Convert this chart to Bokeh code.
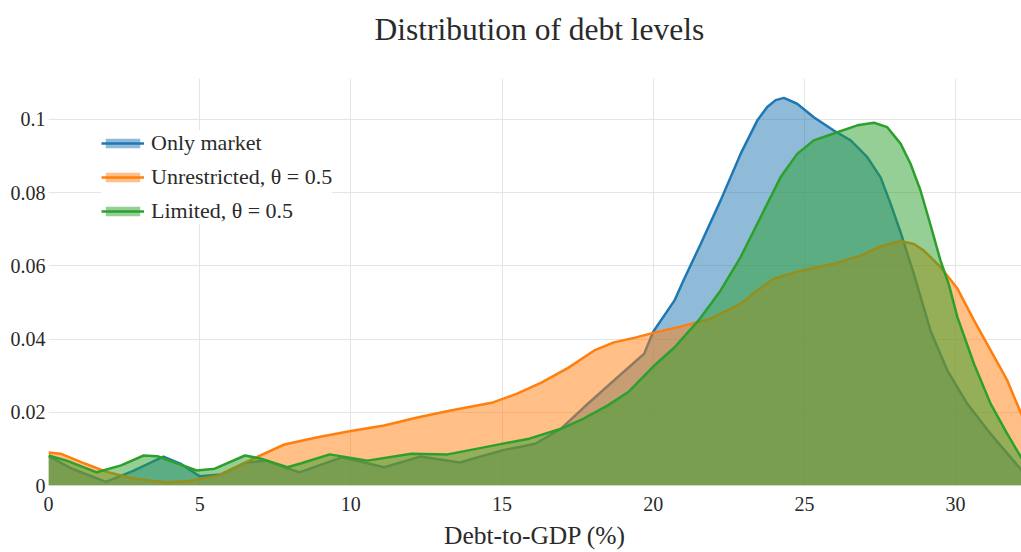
from bokeh.plotting import figure
from bokeh.models import Range1d, FixedTicker, NumeralTickFormatter, Legend, LegendItem, Title
from bokeh.embed import file_html
from bokeh.resources import INLINE

# ---- data ----
x_market = [0, 0.8, 1.9, 2.8, 3.8, 4.4, 5.0, 5.7, 6.5, 7.2, 7.8, 8.3, 9.7, 11.1, 12.3, 13.6,
            15.0, 16.1, 16.95, 17.7, 18.7, 19.7, 20.0, 20.7, 21.0, 21.57, 22.23, 22.89, 23.44,
            23.77, 24.05, 24.32, 24.76, 25.31, 25.97, 26.53, 27.08, 27.52, 27.85, 28.18, 28.51,
            28.62, 29.17, 29.73, 30.39, 31.16, 32.2]
y_market = [0.008, 0.0045, 0.001, 0.004, 0.0079, 0.0058, 0.0025, 0.003, 0.0062, 0.0068, 0.005,
            0.0036, 0.0077, 0.005, 0.0079, 0.0063, 0.0096, 0.0114, 0.0155, 0.0213, 0.0287,
            0.036, 0.042, 0.0505, 0.056, 0.066, 0.0779, 0.0906, 0.0997, 0.1034, 0.1053, 0.1059,
            0.1043, 0.1006, 0.097, 0.0943, 0.0897, 0.0842, 0.077, 0.0692, 0.0606, 0.0578,
            0.0423, 0.0314, 0.0223, 0.0141, 0.004]

x_unres = [0, 0.4, 1.2, 1.9, 2.8, 3.9, 4.7, 5.6, 6.8, 7.8, 8.9, 10.0, 11.1, 12.2, 13.3, 14.7,
           15.5, 16.3, 17.2, 18.05, 18.7, 19.4, 20.0, 20.9, 21.9, 22.9, 23.44, 23.99, 24.87,
           25.97, 26.86, 27.52, 28.18, 28.62, 28.95, 29.5, 30.06, 30.61, 31.16, 31.71, 32.2]
y_unres = [0.009, 0.0087, 0.006, 0.0038, 0.0019, 0.0008, 0.0013, 0.0027, 0.0074, 0.0112, 0.0132,
           0.0149, 0.0164, 0.0186, 0.0205, 0.0227, 0.0251, 0.0281, 0.0322, 0.0369, 0.0391,
           0.0404, 0.0417, 0.0434, 0.0456, 0.0497, 0.0533, 0.0565, 0.0587, 0.0606, 0.0628,
           0.0653, 0.0668, 0.066, 0.0642, 0.0597, 0.0538, 0.0451, 0.0369, 0.0287, 0.019]

x_lim = [0, 0.6, 1.6, 2.4, 3.15, 3.6, 4.9, 5.5, 6.5, 7.0, 7.9, 8.34, 9.3, 10.55, 12.0, 13.2,
         14.7, 15.9, 16.95, 17.7, 18.5, 19.2, 20.0, 20.7, 21.5, 22.23, 22.89, 23.55, 24.21,
         24.76, 25.31, 26.09, 26.75, 27.3, 27.74, 28.18, 28.51, 28.84, 29.17, 29.5, 29.78,
         30.06, 30.61, 31.16, 31.71, 32.2]
y_lim = [0.0082, 0.0068, 0.0036, 0.0055, 0.0082, 0.008, 0.0041, 0.0046, 0.0082, 0.0074, 0.005,
         0.006, 0.0085, 0.0068, 0.0087, 0.0085, 0.0109, 0.0128, 0.0155, 0.0183, 0.0219, 0.0257,
         0.0325, 0.0377, 0.0451, 0.0533, 0.0624, 0.0733, 0.0842, 0.0906, 0.0943, 0.0965,
         0.0984, 0.0991, 0.0979, 0.0934, 0.0879, 0.0806, 0.0712, 0.0615, 0.0548, 0.046,
         0.0332, 0.0223, 0.0141, 0.0072]

series_names = ["Only market", "Unrestricted, θ = 0.5", "Limited, θ = 0.5"]
colors = ["#1f77b4", "#ff7f0e", "#2ca02c"]
x_ticks = [0, 5, 10, 15, 20, 25, 30]
y_ticks = [0, 0.02, 0.04, 0.06, 0.08, 0.1]
title_text = "Distribution of debt levels"
x_label = "Debt-to-GDP (%)"

FONT = "Liberation Serif"
TXT = "#2a2a2a"

p = figure(width=1021, height=552, output_backend="svg", toolbar_location=None,
           x_range=Range1d(0, 32.18), y_range=Range1d(0, 0.1112),
           min_border_left=48, min_border_right=0, min_border_top=78, min_border_bottom=67,
           title=title_text)
p.outline_line_color = None
p.background_fill_color = "white"
p.border_fill_color = "white"

# real title (outer), with a blank spacer title between it and the frame
p.title.text_font = FONT
p.title.text_font_size = "31.5px"
p.title.text_font_style = "normal"
p.title.text_color = TXT
p.title.align = "left"
p.title.offset = 326
p.title.standoff = 0
p.add_layout(Title(text=" ", text_font_size="1px", standoff=29), "above")

for ax in (p.xaxis[0], p.yaxis[0]):
    ax.axis_line_color = None
    ax.major_tick_line_color = None
    ax.minor_tick_line_color = None
    ax.major_tick_in = 0
    ax.major_tick_out = 0
    ax.minor_tick_in = 0
    ax.minor_tick_out = 0
    ax.major_label_text_font = FONT
    ax.major_label_text_font_size = "20px"
    ax.major_label_text_color = TXT

p.xaxis.ticker = FixedTicker(ticks=x_ticks)
p.yaxis.ticker = FixedTicker(ticks=y_ticks)
p.yaxis.formatter = NumeralTickFormatter(format="0.[00]")
p.yaxis.major_label_standoff = 3
p.xaxis.major_label_standoff = 11
p.xaxis.axis_label = x_label
p.xaxis.axis_label_text_font = FONT
p.xaxis.axis_label_text_font_size = "25.5px"
p.xaxis.axis_label_text_font_style = "normal"
p.xaxis.axis_label_text_color = TXT
p.xaxis.axis_label_standoff = 7

p.grid.grid_line_color = "#e5e5e5"
p.grid.grid_line_width = 1

items = []
for name, xs, ys, c in zip(series_names, [x_market, x_unres, x_lim],
                           [y_market, y_unres, y_lim], colors):
    a = p.varea(x=xs, y1=0, y2=ys, fill_color=c, fill_alpha=0.5)
    l = p.line(x=xs, y=ys, line_color=c, line_width=2.5)
    items.append(LegendItem(label=name, renderers=[a, l]))

legend = Legend(items=items, location=(53, 261), padding=8, spacing=8,
                label_height=21, glyph_height=12, glyph_width=43, label_standoff=7,
                margin=0, border_line_color=None, background_fill_color="white",
                background_fill_alpha=1.0, label_text_font=FONT,
                label_text_font_size="22px", label_text_color=TXT)
p.add_layout(legend, "center")

open("out.html", "w").write(file_html(p, INLINE))
